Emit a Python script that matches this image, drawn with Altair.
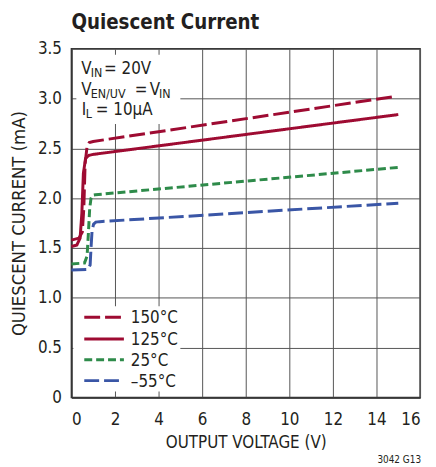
import altair as alt
import pandas as pd

FONT = "'DejaVu Sans Condensed', 'Liberation Sans Narrow', sans-serif"
INK = "#231f20"

series = ["150°C", "125°C", "25°C", "–55°C"]
colors = ["#9e0b32", "#9e0b32", "#2e8b4a", "#3a56a6"]
dashes = [[16, 5], [1, 0], [8, 4], [15, 5]]

x150 = [0.0, 0.35, 0.5, 0.57, 0.63, 0.72, 0.82, 1.0, 14.8]
y150 = [1.58, 1.60, 1.66, 1.90, 2.35, 2.52, 2.56, 2.57, 3.02]

x125 = [0.0, 0.25, 0.4, 0.48, 0.55, 0.65, 0.8, 1.0, 15.0]
y125 = [1.515, 1.53, 1.60, 1.85, 2.25, 2.40, 2.43, 2.44, 2.84]

x25 = [0.0, 0.6, 0.72, 0.78, 0.84, 0.9, 0.97, 1.1, 15.0]
y25 = [1.34, 1.35, 1.42, 1.65, 1.90, 2.00, 2.03, 2.035, 2.31]

x55 = [0.0, 0.75, 0.86, 0.9, 0.95, 1.02, 1.12, 1.3, 15.0]
y55 = [1.28, 1.285, 1.33, 1.50, 1.68, 1.74, 1.76, 1.765, 1.95]

xs = [x150, x125, x25, x55]
ys = [y150, y125, y25, y55]

rows = []
for name, xv, yv in zip(series, xs, ys):
    for i, (a, b) in enumerate(zip(xv, yv)):
        rows.append({"series": name, "v": a, "i": b, "order": i})
df = pd.DataFrame(rows)

x_ticks = [0, 2, 4, 6, 8, 10, 12, 14, 16]
y_ticks = [0, 0.5, 1.0, 1.5, 2.0, 2.5, 3.0, 3.5]

color_scale = alt.Scale(domain=series, range=colors)
dash_scale = alt.Scale(domain=series, range=dashes)

# annotation pieces (text, pixel x, pixel baseline y, size)
ann_text = ["V", "IN", "= 20V", "V", "EN/UV", "=", "V", "IN", "I", "L", "= 10µA"]
ann_px = [10, 19.5, 33, 10, 19.5, 64, 79, 88.5, 10.5, 14.5, 24.7]
ann_py = [25, 28, 25, 46.5, 49.5, 46.5, 46.5, 49.5, 67, 69.5, 67]
ann_size = [17, 12.5, 17, 17, 12.5, 17, 17, 12.5, 17, 12.5, 17]
ann = pd.DataFrame({"t": ann_text, "px": ann_px, "py": ann_py, "s": ann_size})

# manual legend rows
leg_y = [271, 293, 314, 335]
leg = pd.DataFrame({"series": series, "x1": [13] * 4, "x2": [53] * 4,
                    "ly": leg_y, "lx": [60] * 4})

lines = alt.Chart(df).mark_line(strokeWidth=3, strokeCap="butt").encode(
    x=alt.X("v:Q", scale=alt.Scale(domain=[0, 16], nice=False),
            axis=alt.Axis(values=x_ticks, title="OUTPUT VOLTAGE (V)",
                          titleY=50, titleBaseline="alphabetic",
                          titleFontSize=17, labelPadding=14)),
    y=alt.Y("i:Q", scale=alt.Scale(domain=[0, 3.5], nice=False),
            axis=alt.Axis(values=y_ticks, title="QUIESCENT CURRENT (mA)",
                          labelExpr="datum.value == 0 ? '0' : format(datum.value, '.1f')",
                          titleX=-47, titleBaseline="alphabetic",
                          titleFontSize=18.5, labelPadding=10)),
    color=alt.Color("series:N", scale=color_scale, legend=None),
    strokeDash=alt.StrokeDash("series:N", scale=dash_scale, legend=None),
    detail="series:N",
    order="order:Q",
)

box = alt.Chart(pd.DataFrame({"k": [0]})).mark_rect(color="white").encode(
    x=alt.value(5), x2=alt.value(110), y=alt.value(6), y2=alt.value(76)
)

leg_box = alt.Chart(pd.DataFrame({"k": [0]})).mark_rect(color="white").encode(
    x=alt.value(2), x2=alt.value(110), y=alt.value(260), y2=alt.value(346)
)

leg_lines = alt.Chart(leg).mark_rule(strokeWidth=3, strokeCap="butt").encode(
    x=alt.X("x1:Q", scale=None), x2="x2:Q", y=alt.Y("ly:Q", scale=None),
    color=alt.Color("series:N", scale=color_scale, legend=None),
    strokeDash=alt.StrokeDash("series:N", scale=dash_scale, legend=None),
)

leg_text = alt.Chart(leg).mark_text(align="left", baseline="middle", font=FONT,
                                    fontSize=17, color=INK, dy=1).encode(
    x=alt.X("lx:Q", scale=None), y=alt.Y("ly:Q", scale=None), text="series:N"
)

texts = alt.Chart(ann).mark_text(align="left", baseline="alphabetic",
                                 font=FONT, color=INK).encode(
    x=alt.X("px:Q", scale=None),
    y=alt.Y("py:Q", scale=None),
    text="t:N",
    size=alt.Size("s:Q", scale=None, legend=None),
)

title = alt.Chart(pd.DataFrame({"t": ["Quiescent Current"]})).mark_text(
    align="left", baseline="alphabetic", font=FONT, fontSize=20.5,
    fontWeight="bold", color=INK
).encode(x=alt.value(0), y=alt.value(-20), text="t:N")

code = alt.Chart(pd.DataFrame({"t": ["3042 G13"]})).mark_text(
    align="right", baseline="alphabetic", font=FONT, fontSize=10, color=INK
).encode(x=alt.value(353), y=alt.value(418), text="t:N")

chart = alt.layer(box, leg_box, lines, leg_lines, leg_text, texts, title, code).properties(
    width=352, height=352,
    autosize=alt.AutoSizeParams(type="none"),
    padding={"left": 64, "top": 39, "right": 8, "bottom": 68},
).configure_view(
    stroke="#333", strokeWidth=1.5
).configure_axis(
    grid=True, gridColor="#555", gridWidth=1, ticks=False,
    domainColor="#333", domainWidth=1.5,
    labelFont=FONT, labelFontSize=17, labelColor=INK,
    titleFont=FONT, titleColor=INK, titleFontWeight="normal",
)

chart.save("out.html", embed_options={"renderer": "svg", "actions": False})
